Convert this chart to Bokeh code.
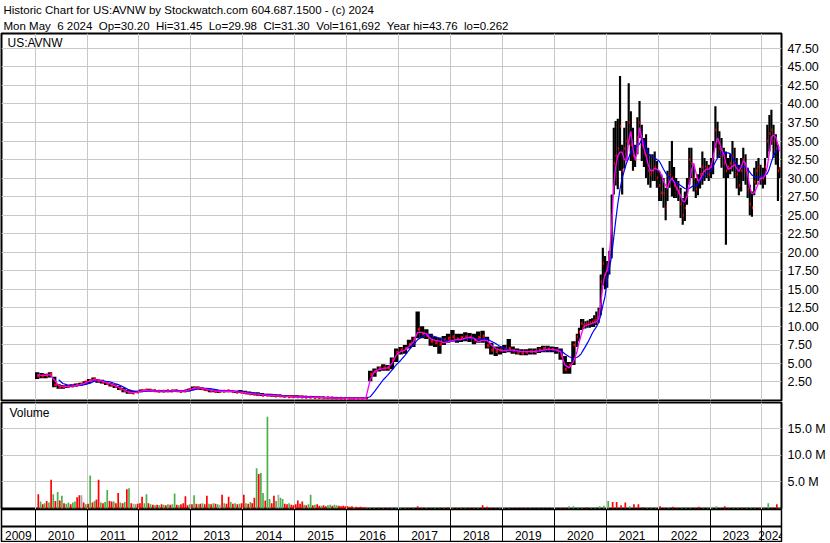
import pandas as pd
from bokeh.plotting import figure
from bokeh.models import (Range1d, FixedTicker, PrintfTickFormatter, Title, Label,
                          Span, ColumnDataSource, LinearAxis)
from bokeh.layouts import column
from bokeh.embed import file_html
from bokeh.resources import INLINE
from bokeh.core.properties import value

# ---------------------------------------------------------------- texts
NB = "\u00a0"
HEADER_1 = "Historic Chart for US:AVNW by Stockwatch.com 604.687.1500 - (c) 2024"
HEADER_2 = ("Mon May " + NB + "6 2024 " + NB + "Op=30.20 " + NB + "Hi=31.45 " + NB +
            "Lo=29.98 " + NB + "Cl=31.30 " + NB + "Vol=161,692 " + NB +
            "Year hi=43.76 " + NB + "lo=0.262")
SYMBOL = "US:AVNW"
VOLUME_TITLE = "Volume"
YEARS = list(range(2009, 2025))
PRICE_TICKS = [2.5, 5.0, 7.5, 10.0, 12.5, 15.0, 17.5, 20.0, 22.5, 25.0, 27.5,
               30.0, 32.5, 35.0, 37.5, 40.0, 42.5, 45.0, 47.5]
VOLUME_TICKS = [5, 10, 15]          # millions
VIEW_START = "2009-05-09"
VIEW_END = "2024-05-18"

# ---------------------------------------------------------------- price, monthly bars 2010-01 .. 2020-05
HIGH_A = [3.8, 3.7, 3.6, 3.8, 3.2, 2.2, 2.1, 2.1, 2.2, 2.3, 2.4, 2.6,
          2.9, 3.1, 2.9, 2.8, 2.6, 2.4, 2.2, 2.0, 1.7, 1.4, 1.3, 1.3,
          1.5, 1.5, 1.6, 1.5, 1.4, 1.4, 1.4, 1.4, 1.5, 1.4, 1.4, 1.6,
          1.9, 1.9, 1.8, 1.7, 1.5, 1.4, 1.4, 1.4, 1.4, 1.4, 1.3, 1.4,
          1.3, 1.2, 1.1, 1.1, 1.0, 0.9, 0.9, 0.85, 0.8, 0.75, 0.7, 0.7,
          0.7, 0.68, 0.65, 0.6, 0.6, 0.58, 0.55, 0.52, 0.5, 0.48, 0.45, 0.42,
          0.4, 0.4, 0.4, 0.4, 0.4, 4.0, 4.3, 4.6, 4.9, 4.8, 5.8, 7.0,
          7.2, 7.5, 8.2, 8.6, 12.0, 10.0, 9.6, 9.0, 8.6, 8.5, 8.7, 9.0,
          9.5, 9.0, 9.0, 9.2, 9.1, 9.0, 9.3, 9.4, 8.6, 7.8, 7.3, 7.3,
          7.5, 8.3, 7.3, 7.0, 6.9, 6.9, 7.0, 7.0, 7.2, 7.4, 7.4, 7.3,
          7.2, 7.0, 6.0, 5.2, 8.0]
LOW_A = [2.9, 3.0, 3.0, 3.1, 1.8, 1.6, 1.6, 1.7, 1.8, 1.9, 2.0, 2.1,
         2.3, 2.6, 2.4, 2.3, 2.1, 1.9, 1.7, 1.4, 1.1, 0.9, 0.9, 1.0,
         1.1, 1.2, 1.2, 1.2, 1.1, 1.1, 1.1, 1.1, 1.2, 1.1, 1.1, 1.2,
         1.4, 1.5, 1.4, 1.3, 1.1, 1.1, 1.0, 1.1, 1.1, 1.1, 1.0, 1.0,
         0.9, 0.8, 0.75, 0.65, 0.6, 0.6, 0.55, 0.5, 0.5, 0.45, 0.45, 0.42,
         0.4, 0.4, 0.35, 0.35, 0.33, 0.3, 0.3, 0.28, 0.27, 0.25, 0.22, 0.2,
         0.2, 0.18, 0.2, 0.2, 0.2, 2.6, 3.2, 3.9, 4.0, 4.0, 4.2, 5.2,
         6.2, 6.3, 7.0, 7.2, 8.4, 8.4, 8.3, 7.4, 7.2, 6.3, 7.5, 7.8,
         8.0, 7.8, 7.9, 8.0, 7.9, 7.6, 7.8, 7.8, 7.0, 6.2, 6.0, 6.2,
         6.4, 6.5, 6.3, 6.2, 6.1, 6.1, 6.2, 6.2, 6.4, 6.5, 6.5, 6.5,
         6.3, 5.5, 3.6, 3.6, 4.8]
CLOSE_A = [3.3, 3.3, 3.4, 3.5, 2.1, 1.8, 1.9, 1.9, 2.0, 2.1, 2.2, 2.5,
           2.7, 2.9, 2.7, 2.5, 2.3, 2.1, 1.9, 1.6, 1.3, 1.1, 1.0, 1.15,
           1.35, 1.4, 1.35, 1.3, 1.25, 1.25, 1.3, 1.3, 1.3, 1.2, 1.3, 1.5,
           1.7, 1.7, 1.6, 1.45, 1.3, 1.2, 1.2, 1.25, 1.3, 1.2, 1.1, 1.1,
           1.0, 0.9, 0.85, 0.8, 0.72, 0.7, 0.68, 0.62, 0.6, 0.55, 0.52, 0.5,
           0.5, 0.48, 0.45, 0.44, 0.42, 0.4, 0.38, 0.36, 0.34, 0.32, 0.3, 0.28,
           0.27, 0.26, 0.27, 0.28, 0.3, 3.5, 3.9, 4.3, 4.4, 4.4, 5.5, 6.5,
           6.8, 7.0, 7.6, 8.3, 9.6, 9.0, 8.8, 8.0, 7.8, 7.6, 8.2, 8.4,
           8.6, 8.3, 8.5, 8.6, 8.5, 8.2, 8.5, 8.7, 7.4, 6.8, 6.6, 6.8,
           6.9, 7.0, 6.7, 6.5, 6.4, 6.5, 6.6, 6.6, 6.8, 7.0, 6.9, 6.9,
           6.8, 6.0, 4.2, 4.8, 7.5]
FAST_A = [3.5, 3.4, 3.4, 3.5, 2.8, 2.0, 1.9, 1.9, 1.95, 2.0, 2.15, 2.3,
          2.6, 2.8, 2.75, 2.6, 2.4, 2.2, 2.0, 1.75, 1.45, 1.15, 1.05, 1.1,
          1.25, 1.35, 1.35, 1.3, 1.28, 1.27, 1.27, 1.3, 1.3, 1.25, 1.27, 1.4,
          1.6, 1.7, 1.65, 1.55, 1.4, 1.3, 1.25, 1.25, 1.27, 1.25, 1.17, 1.12,
          1.05, 0.95, 0.9, 0.85, 0.78, 0.72, 0.7, 0.66, 0.62, 0.58, 0.55, 0.52,
          0.5, 0.49, 0.47, 0.45, 0.43, 0.41, 0.39, 0.37, 0.35, 0.33, 0.31, 0.29,
          0.28, 0.27, 0.27, 0.27, 0.28, 2.8, 3.9, 4.2, 4.3, 4.4, 5.0, 6.1,
          6.6, 6.8, 7.3, 7.9, 9.2, 9.2, 9.0, 8.3, 8.1, 8.0, 7.8, 7.9,
          8.1, 8.2, 8.2, 8.4, 8.5, 8.4, 7.9, 8.1, 8.1, 7.5, 7.0, 6.8,
          6.7, 6.8, 6.8, 6.7, 6.6, 6.6, 6.6, 6.6, 6.7, 6.8, 6.9, 6.9,
          6.8, 6.6, 4.8, 4.4, 5.2]
NA = float("nan")
SLOW_A = [NA, NA, NA, NA, NA, 2.8, 2.3, 2.1, 2.0, 2.0, 2.05, 2.15,
          2.3, 2.55, 2.7, 2.7, 2.6, 2.5, 2.3, 2.1, 1.8, 1.5, 1.3, 1.2,
          1.2, 1.25, 1.3, 1.3, 1.3, 1.28, 1.28, 1.28, 1.3, 1.3, 1.28, 1.3,
          1.4, 1.55, 1.65, 1.65, 1.6, 1.5, 1.4, 1.35, 1.3, 1.28, 1.25, 1.2,
          1.15, 1.08, 1.0, 0.93, 0.87, 0.8, 0.75, 0.72, 0.68, 0.64, 0.6, 0.57,
          0.55, 0.53, 0.5, 0.48, 0.46, 0.44, 0.42, 0.4, 0.38, 0.37, 0.35, 0.34,
          0.33, 0.32, 0.31, 0.31, 0.31, 0.5, 1.2, 2.0, 2.8, 3.4, 4.1, 4.8,
          5.4, 6.1, 6.8, 7.5, 8.2, 8.6, 8.9, 8.8, 8.6, 8.4, 8.2, 8.0,
          8.0, 8.1, 8.2, 8.3, 8.4, 8.3, 8.2, 8.3, 8.3, 8.0, 7.7, 7.3,
          7.0, 6.8, 6.7, 6.7, 6.6, 6.6, 6.6, 6.6, 6.7, 6.7, 6.8, 6.8,
          6.8, 6.8, 6.3, 5.9, 5.7]

# ---------------------------------------------------------------- price, half-month bars 2020-06 .. 2024-05
HIGH_B = [9.0, 9.8, 11.0, 11.0, 10.7, 10.8, 11.0, 11.1, 11.5, 12.0, 12.5, 17.0, 20.6, 19.5,
          18.8, 20.2, 27.8, 36.8, 37.7, 38.0, 43.76, 34.5, 36.8, 37.7, 42.8, 39.0,
          36.8, 34.5, 38.2, 40.4, 37.2, 35.4, 35.9, 34.1, 33.2, 33.2, 33.6, 32.3,
          31.0, 30.5, 30.0, 28.7, 31.0, 32.3, 35.0, 31.5, 30.0, 29.6, 28.7, 27.3,
          28.2, 30.0, 34.1, 34.1, 31.8, 30.0, 30.5, 31.4, 33.6, 32.7, 32.3, 31.8,
          32.7, 35.0, 39.7, 37.6, 36.3, 35.4, 34.1, 33.6, 32.7, 33.2, 35.0, 34.1,
          32.7, 31.8, 32.7, 34.1, 33.2, 31.4, 29.1, 28.2, 31.4, 32.3, 32.7, 31.8,
          31.4, 32.7, 37.2, 38.5, 39.2, 37.2, 35.9, 34.5, 31.45]
LOW_B = [7.2, 8.0, 9.5, 9.6, 9.7, 9.8, 9.8, 9.9, 9.9, 10.2, 10.5, 11.5, 15.5, 15.0,
         15.2, 17.0, 19.2, 27.8, 29.0, 28.5, 31.0, 27.8, 31.3, 32.3, 34.5, 32.3,
         31.0, 31.5, 33.2, 35.4, 32.3, 31.5, 30.0, 29.1, 28.7, 29.6, 29.6, 28.7,
         26.9, 26.9, 26.0, 24.3, 26.9, 28.7, 27.5, 27.3, 27.3, 26.9, 24.6, 23.7,
         24.2, 26.4, 29.1, 30.0, 28.2, 27.3, 27.7, 28.6, 29.1, 29.6, 30.0, 29.6,
         30.0, 30.5, 34.1, 32.7, 32.7, 31.4, 30.0, 21.0, 30.0, 30.5, 30.9, 30.0,
         28.6, 27.7, 28.2, 29.6, 29.1, 27.3, 25.0, 24.8, 27.7, 29.1, 29.6, 29.1,
         28.6, 29.1, 32.7, 33.6, 34.5, 32.7, 31.8, 26.9, 29.98]
CLOSE_B = [8.6, 9.2, 10.4, 10.2, 10.3, 10.4, 10.5, 10.6, 10.8, 11.0, 12.0, 16.0, 18.5, 17.0,
           17.5, 19.0, 25.0, 32.0, 33.0, 34.0, 37.0, 31.0, 34.0, 35.0, 37.5, 34.5,
           33.0, 32.5, 35.5, 37.5, 34.5, 33.5, 33.0, 31.0, 30.5, 31.0, 31.5, 30.0,
           29.0, 28.0, 28.0, 26.0, 29.0, 30.5, 30.0, 29.0, 28.5, 28.0, 26.5, 25.0,
           26.0, 28.5, 32.5, 32.0, 30.0, 28.5, 29.5, 30.5, 31.5, 31.0, 31.5, 30.5,
           31.5, 33.0, 36.5, 35.0, 34.0, 33.0, 32.0, 31.0, 31.5, 32.0, 33.0, 32.0,
           30.5, 29.0, 31.0, 32.5, 31.0, 28.5, 26.5, 26.0, 29.5, 31.0, 31.5, 30.0,
           30.0, 31.5, 35.0, 36.0, 36.5, 35.0, 34.0, 31.0, 31.30]
FAST_B = [6.5, 7.8, 8.8, 9.8, 10.1, 10.2, 10.3, 10.4, 10.5, 10.6, 11.0, 13.0, 15.5, 17.0,
          17.6, 19.5, 23.5, 29.0, 31.5, 33.0, 33.5, 33.5, 32.5, 32.3, 35.0, 36.3,
          34.0, 32.5, 33.5, 36.8, 35.5, 34.0, 33.0, 31.8, 31.0, 31.0, 31.3, 31.2,
          31.0, 30.5, 29.6, 29.0, 28.6, 29.6, 30.0, 29.5, 28.8, 28.3, 27.6, 26.9,
          26.8, 27.5, 29.0, 31.0, 32.0, 30.8, 29.6, 29.8, 30.5, 31.0, 31.2, 31.2,
          31.5, 32.8, 34.5, 35.4, 34.8, 33.8, 33.2, 32.0, 31.2, 31.3, 31.6, 31.8,
          31.3, 30.9, 31.5, 32.3, 32.0, 30.5, 28.8, 27.9, 28.0, 28.6, 29.3, 30.0,
          30.0, 30.3, 31.5, 33.5, 35.5, 35.8, 35.5, 34.5, 33.6]
SLOW_B = [5.8, 6.0, 6.3, 6.8, 7.3, 7.8, 8.4, 9.0, 9.5, 9.9, 10.5, 11.5, 12.8, 14.0,
          16.2, 17.8, 19.5, 22.0, 24.2, 26.5, 28.5, 30.0, 31.0, 32.0, 32.7, 33.5,
          34.0, 34.2, 34.3, 34.6, 35.2, 35.0, 34.0, 33.3, 33.0, 32.9, 32.7, 32.5,
          32.3, 31.8, 31.2, 30.7, 30.3, 30.0, 29.7, 29.5, 29.4, 29.2, 29.0, 28.8,
          28.6, 28.5, 28.6, 28.8, 29.0, 28.9, 29.2, 29.6, 30.0, 30.3, 30.6, 30.8,
          30.9, 31.6, 32.2, 32.7, 33.0, 33.3, 33.4, 33.4, 33.4, 33.3, 32.8, 32.2,
          31.8, 31.5, 31.4, 31.5, 31.6, 31.2, 30.8, 30.4, 30.2, 30.2, 30.2, 30.2,
          30.3, 30.4, 30.6, 31.3, 32.2, 33.0, 33.6, 34.0, 34.2]

# ---------------------------------------------------------------- volume (millions of shares)
# half-month bars 2010-01 (2nd half) .. 2016-05
VOL_A = [2.7, 1.3, 0.8, 1.0, 1.4, 1.1, 5.4, 2.7, 1.4, 3.1, 1.5, 2.4, 1.0, 0.9, 1.1, 0.8, 1.1, 1.3, 2.1, 2.5, 2.5, 1.1, 0.8,
         0.9, 6.2, 1.1, 1.4, 1.7, 5.4, 1.1, 1.0, 1.2, 3.5, 1.4, 1.3, 1.3, 1.0, 2.9, 1.1, 1.0, 1.2, 3.6, 3.8, 1.0, 0.9, 0.8, 0.9,
         1.0, 2.2, 1.0, 2.7, 1.0, 0.8, 0.7, 0.6, 0.7, 0.6, 0.8, 0.7, 0.6, 0.8, 0.7, 0.8, 2.8, 0.7, 0.6, 0.8, 1.0, 2.3, 0.6, 0.8,
         0.8, 2.5, 0.9, 0.8, 0.9, 1.0, 0.8, 2.4, 0.9, 0.8, 1.0, 0.9, 0.8, 0.7, 2.6, 1.0, 0.9, 2.2, 1.2, 0.9, 1.0, 0.8, 0.9, 1.0,
         2.6, 1.0, 0.9, 1.2, 1.0, 2.0, 7.6, 6.5, 6.7, 2.9, 1.5, 17.3, 1.8, 1.0, 2.4, 1.4, 2.6, 2.0, 1.8, 0.9, 0.8, 1.0, 0.7, 0.6,
         0.8, 1.5, 0.9, 1.3, 0.7, 0.6, 0.8, 2.6, 0.6, 0.7, 0.8, 0.5, 0.5, 0.6, 0.4, 0.6, 0.7, 0.5, 0.7, 0.6, 0.5, 0.4, 0.5, 0.4,
         0.4, 0.3, 0.4, 0.2, 0.3, 0.2, 0.3, 0.2, 0.2, 0.1]
DIR_A = ["r", "g", "r", "g", "r", "g", "r", "g", "r", "g", "r", "g", "r", "g", "g", "r", "g", "g", "r", "r", "k", "r", "g",
         "r", "g", "r", "g", "r", "r", "g", "r", "g", "g", "r", "r", "g", "r", "r", "g", "r", "g", "r", "g", "r", "k", "g", "r",
         "r", "r", "g", "g", "r", "g", "r", "g", "r", "g", "r", "g", "r", "g", "r", "g", "g", "r", "g", "r", "r", "r", "r", "g",
         "r", "g", "r", "g", "r", "g", "r", "r", "g", "r", "g", "r", "g", "k", "r", "g", "r", "r", "g", "r", "g", "r", "g", "r",
         "r", "g", "r", "g", "r", "r", "g", "r", "g", "g", "r", "g", "g", "r", "r", "g", "k", "g", "g", "r", "r", "g", "r", "r",
         "r", "r", "r", "r", "g", "r", "g", "g", "r", "g", "r", "r", "g", "r", "r", "g", "g", "r", "g", "g", "r", "r", "r", "r",
         "r", "r", "r", "g", "r", "r", "r", "r", "r", "g"]
# monthly bars 2016-06 .. 2024-05
VOL_B = [0.2, 0.1, 0.1, 0.1, 0.1, 0.1, 0.15,
         0.1, 0.2, 0.1, 0.1, 0.4, 0.15, 0.1, 0.1, 0.2, 0.1, 0.1, 0.2,
         0.1, 0.1, 0.1, 0.1, 0.1, 0.1, 0.1, 0.6, 0.3, 0.1, 0.1, 0.1,
         0.1, 0.1, 0.05, 0.05, 0.05, 0.05, 0.05, 0.05, 0.05, 0.05, 0.05, 0.05,
         0.05, 0.1, 0.1, 0.4, 0.4, 0.2, 0.15, 0.2, 0.1, 0.15, 0.4, 0.5,
         1.4, 1.2, 1.2, 0.6, 1.1, 0.4, 0.8, 0.8, 0.2, 0.2, 0.2, 0.2,
         0.4, 0.1, 0.1, 0.3, 0.1, 0.2, 0.1, 0.1, 0.1, 0.3, 0.1, 0.1,
         0.1, 0.4, 0.1, 0.4, 0.1, 0.1, 0.1, 0.1, 0.2, 0.2, 0.1, 0.1,
         0.1, 1.0, 0.2, 0.8, 0.16]
DIR_B = ["g", "g", "r", "g", "r", "g", "g",
         "g", "g", "r", "g", "r", "r", "g", "r", "g", "r", "g", "r",
         "g", "r", "g", "g", "r", "r", "g", "r", "r", "r", "r", "g",
         "g", "g", "r", "r", "r", "g", "g", "r", "g", "g", "r", "g",
         "r", "r", "r", "g", "g", "g", "g", "r", "g", "g", "g", "g",
         "g", "r", "r", "r", "r", "g", "r", "r", "r", "g", "g", "g",
         "r", "r", "g", "r", "r", "g", "g", "g", "r", "r", "g", "g",
         "g", "g", "r", "r", "r", "g", "g", "r", "g", "g", "g", "r",
         "g", "g", "r", "r", "g"]

# ---------------------------------------------------------------- date grids
DAY = pd.Timedelta(days=1)
dates_a = list(pd.date_range("2010-01-01", "2020-05-01", freq="MS") + 14 * DAY)
dates_b = []
for m in pd.date_range("2020-06-01", "2024-04-01", freq="MS"):
    dates_b += [m + 7 * DAY, m + 22 * DAY]
dates_b.append(pd.Timestamp("2024-05-03"))
vdates_a = []
for m in pd.date_range("2010-01-01", "2016-05-01", freq="MS"):
    vdates_a += [m + 7 * DAY, m + 22 * DAY]
vdates_a = vdates_a[1:]
vdates_b = list(pd.date_range("2016-06-01", "2024-04-01", freq="MS") + 14 * DAY)
vdates_b.append(pd.Timestamp("2024-05-03"))

for arr in (HIGH_A, LOW_A, CLOSE_A, FAST_A, SLOW_A):
    assert len(arr) == len(dates_a), len(arr)
for arr in (HIGH_B, LOW_B, CLOSE_B, FAST_B, SLOW_B):
    assert len(arr) == len(dates_b), len(arr)
assert len(VOL_A) == len(vdates_a) == len(DIR_A)
assert len(VOL_B) == len(vdates_b) == len(DIR_B)

MS_DAY = 86400000.0
price_dates = pd.Series(dates_a + dates_b)
bar_days = pd.Series([30.4] * len(dates_a) + [15.2] * len(dates_b))
price = ColumnDataSource(dict(
    date=price_dates,
    high=HIGH_A + HIGH_B, low=LOW_A + LOW_B, close=CLOSE_A + CLOSE_B,
    fast=FAST_A + FAST_B, slow=SLOW_A + SLOW_B,
    w=bar_days * MS_DAY,
    tick_x=price_dates + pd.to_timedelta(bar_days * 0.25, unit="D"),
    tick_w=bar_days * 0.5 * MS_DAY,
))
COLOR_OF = {"r": "#ff0000", "g": "#4cb04c", "k": "#a8a8a8"}
vol = ColumnDataSource(dict(
    date=pd.Series(vdates_a + vdates_b),
    v=VOL_A + VOL_B,
    c=[COLOR_OF[d] for d in DIR_A + DIR_B],
))

# ---------------------------------------------------------------- layout constants
FONT = "Liberation Sans"
FRAME_W = 780
LEFT = 1
RIGHT = 48
GRID = "#c8c8c8"
x_range = Range1d(pd.Timestamp(VIEW_START), pd.Timestamp(VIEW_END))
year_starts = [pd.Timestamp(f"{y}-01-01") for y in YEARS[1:]]
year_ticker = FixedTicker(ticks=[t.value / 1e6 for t in year_starts])


def base_figure(frame_h, y_range, bottom=0, top=0):
    f = figure(x_axis_type="datetime", x_range=x_range, y_range=y_range,
               frame_width=FRAME_W, frame_height=frame_h,
               x_axis_location=None, y_axis_location=None,
               output_backend="svg", toolbar_location=None,
               min_border_left=LEFT, min_border_right=RIGHT,
               min_border_top=top, min_border_bottom=bottom,
               background_fill_color="white", border_fill_color="white")
    f.outline_line_color = "black"
    f.outline_line_width = 2
    f.xgrid.ticker = year_ticker
    f.xgrid.grid_line_color = GRID
    f.ygrid.grid_line_color = GRID
    return f


def right_axis(f, ticks, fmt):
    ax = LinearAxis(ticker=FixedTicker(ticks=ticks), formatter=PrintfTickFormatter(format=fmt))
    ax.axis_line_color = None
    ax.major_tick_line_color = None
    ax.minor_tick_line_color = None
    ax.major_tick_out = 0
    ax.major_tick_in = 0
    ax.major_label_standoff = 6
    ax.major_label_text_font = FONT
    ax.major_label_text_font_size = "12.5px"
    ax.major_label_text_color = "black"
    f.add_layout(ax, "right")
    f.ygrid.ticker = FixedTicker(ticks=ticks)


# ---------------------------------------------------------------- price panel
p = base_figure(367, Range1d(0, 49.5), bottom=1)
right_axis(p, PRICE_TICKS, "%.2f")
for txt, sd in ((HEADER_2, 3), (HEADER_1, 2)):
    p.add_layout(Title(text=txt, align="left", offset=2, standoff=sd,
                       text_font=FONT, text_font_size="11.5px",
                       text_font_style="normal", text_color="black"), "above")
p.vbar(x="date", top="high", bottom="low", width="w", source=price,
       fill_color="black", line_color=None)
p.rect(x="tick_x", y="close", width="tick_w", height=3, height_units="screen",
       source=price, fill_color="#ff0000", line_color=None)
p.line(x="date", y="slow", source=price, line_color="#0000ff", line_width=1.2)
p.line(x="date", y="fast", source=price, line_color="#ff00ff", line_width=1.3)
p.add_layout(Label(x=6, y=365, x_units="screen", y_units="screen", text=SYMBOL,
                   text_baseline="top", text_font=FONT, text_font_size="12px",
                   text_color="black"))

# ---------------------------------------------------------------- volume panel
v = base_figure(107, Range1d(-0.2, 20.0), top=1)
right_axis(v, VOLUME_TICKS, "%.1f M")
v.vbar(x="date", top="v", bottom=0, width=12 * MS_DAY, source=vol,
       fill_color="c", line_color=None)
v.add_layout(Label(x=8, y=104, x_units="screen", y_units="screen", text=VOLUME_TITLE,
                   text_baseline="top", text_font=FONT, text_font_size="12px",
                   text_color="black"))

# ---------------------------------------------------------------- year strip
s = base_figure(33, Range1d(0, 2))
s.outline_line_width = 1.5
s.xgrid.grid_line_color = "black"
s.ygrid.grid_line_color = None
s.add_layout(Span(location=0.97, dimension="width", line_color="black", line_width=2))
vs, ve = pd.Timestamp(VIEW_START), pd.Timestamp(VIEW_END)
label_x = []
for y in YEARS:
    a = max(pd.Timestamp(f"{y}-01-01"), vs)
    b = min(pd.Timestamp(f"{y + 1}-01-01"), ve)
    label_x.append(a + (b - a) / 2)
s.text(x=label_x, y=[0.45] * len(YEARS), text=[str(y) for y in YEARS],
       text_align="center", text_baseline="middle",
       text_font=value(FONT), text_font_size="12px", text_color="black")

page = column(p, v, s, spacing=0)
open("out.html", "w").write(file_html(page, INLINE))
